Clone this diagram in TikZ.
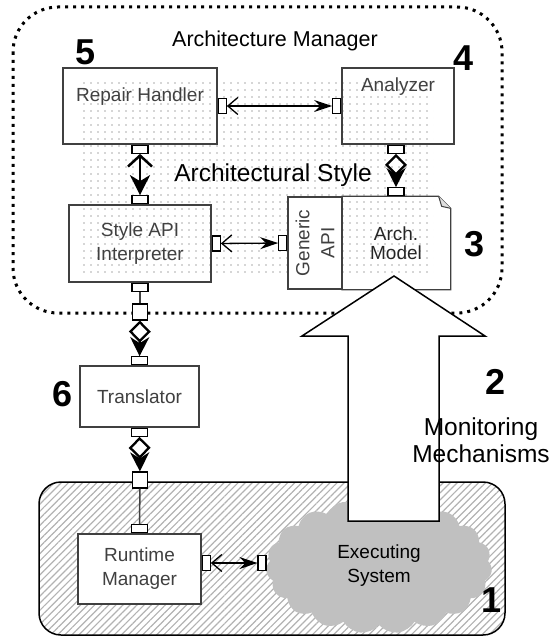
\documentclass[tikz,border=0pt]{standalone}
\usepackage{xcolor}
\usepackage{fontspec}
\setmainfont{Liberation Sans}
\usepackage{tikz}
\usetikzlibrary{arrows.meta,patterns.meta,shapes.symbols,positioning}

\definecolor{boxgray}{HTML}{404040}
\definecolor{cloudgray}{HTML}{C0C0C0}

\tikzstyle{mybox} = [draw=boxgray, line width=1.3pt, rectangle, inner sep=0pt, align=center, text=boxgray, font=\fontsize{19}{24}\selectfont]
\tikzstyle{boxlabel} = [text=boxgray, font=\fontsize{19}{24}\selectfont, align=center, inner sep=0pt, anchor=center]
\tikzstyle{genlabel} = [boxlabel, rotate=90, font=\fontsize{19}{25}\selectfont]
\tikzstyle{myport} = [draw=black, line width=1.2pt, fill=white, rectangle, inner sep=0pt]
\tikzstyle{hport} = [myport, minimum width=8pt, minimum height=15pt]
\tikzstyle{vport} = [myport, minimum width=16pt, minimum height=8pt]
\tikzstyle{myjoin} = [myport, minimum width=15pt, minimum height=16pt]
\tikzstyle{mynum} = [font=\bfseries\fontsize{36}{36}\selectfont, inner sep=0pt]
\tikzstyle{mytitle} = [font=\fontsize{21.5}{24}\selectfont, inner sep=0pt]
\tikzstyle{bigtext} = [font=\fontsize{24.5}{27}\selectfont, align=center, inner sep=0pt]
\tikzstyle{mycloud} = [cloud, cloud puffs=19, cloud puff arc=110, aspect=1.9, fill=cloudgray, minimum width=226pt, minimum height=135pt, inner sep=0pt, align=center, font=\fontsize{19}{24}\selectfont]
\tikzstyle{thinlink} = [line width=1.3pt, arrows={Straight Barb[length=10pt,width=17pt]-Stealth[length=18pt,width=12pt,inset=6pt]}]
\tikzstyle{thicklink} = [line width=2.5pt, arrows={Straight Barb[length=11pt,width=24pt]-Stealth[length=20pt,width=20pt,inset=6pt]}]
\tikzstyle{diamlink} = [line width=2.3pt, arrows={Diamond[open,length=22pt,width=22pt]-Stealth[length=19pt,width=19pt,inset=6pt]}]
\tikzstyle{plainlink} = [draw=boxgray, line width=1.5pt]

\begin{document}
\begin{tikzpicture}[x=1pt,y=-1pt]
    \useasboundingbox (0,0) rectangle (549,636);

    % sfondo
    \fill[pattern={Dots[radius=0.9pt,distance=7pt]}, pattern color=gray!65] (83,80) rectangle (433,277);
    \draw[line width=3pt, dash pattern=on 3pt off 5pt, rounded corners=45pt] (13,7) rectangle (502,313);
    \draw[line width=1.5pt, rounded corners=22pt, pattern={Lines[angle=45,distance=5pt,line width=1.2pt]}, pattern color=gray!60] (39,482) rectangle (505,635);
    \node[mycloud] (cloud) at (379,566) {Executing\\System};

    \node[mytitle] (mgrtitle) at (275,41) {Architecture Manager};
    \node[bigtext] (styletitle) at (273,175) {Architectural Style};

    % componenti
    \node[mybox, minimum width=154pt, minimum height=76pt, label={[boxlabel,yshift=-29pt]north:Repair Handler}] (repair) at (140,106) {};
    \node[mybox, minimum width=112pt, minimum height=76pt, label={[boxlabel,yshift=-19pt]north:Analyzer}] (analyzer) at (398,106) {};
    \node[mybox, minimum width=142pt, minimum height=77pt] (style) at (140,243.5) {Style API\\Interpreter};
    \node[mybox, fill=white, minimum width=54pt, minimum height=92pt, label={[genlabel]center:Generic\\API}] (generic) at (315,243) {};
    \node[mybox, draw=none, minimum width=108pt, minimum height=92pt, text=black!85, font=\fontsize{19}{19.5}\selectfont] (model) at (396,243) {Arch.\\Model};
    \draw[boxgray, line width=1.3pt] (model.north west) -- ([xshift=-12pt]model.north east) -- ([yshift=-12pt]model.north east) -- (model.south east) -- (model.south west);
    \draw[boxgray, line width=1pt, fill=gray!25] ([xshift=-12pt]model.north east) -- ([xshift=-9pt,yshift=-10pt]model.north east) -- ([yshift=-12pt]model.north east);
    \node[mybox, fill=white, minimum width=119pt, minimum height=61pt] (translator) at (139.5,396.5) {Translator};
    \node[mybox, fill=white, minimum width=123pt, minimum height=70pt] (runtime) at (139.5,569) {Runtime\\Manager};

    % porte
    \node[hport, anchor=west] (repE) at (repair.east) {};
    \node[hport, anchor=east] (anaW) at (analyzer.west) {};
    \node[vport, anchor=north] (repS) at (repair.south) {};
    \node[vport, anchor=north] (anaS) at (analyzer.south -| model.north) {};
    \node[vport, anchor=south] (styleN) at (style.north) {};
    \node[hport, anchor=west] (styleE) at (style.east) {};
    \node[vport, anchor=north] (styleS) at (style.south) {};
    \node[hport, anchor=east] (genW) at (generic.west) {};
    \node[vport, anchor=south] (modelN) at (model.north) {};
    \node[myjoin] (joinA) at (140,312) {};
    \node[vport, anchor=south] (transN) at (translator.north) {};
    \node[vport, anchor=north] (transS) at (translator.south) {};
    \node[myjoin] (joinB) at (140,480) {};
    \node[vport, anchor=south] (runN) at (runtime.north) {};
    \node[hport, anchor=west] (runE) at ([yshift=6pt]runtime.east) {};
    \node[hport, anchor=east] (cloudW) at (runE -| cloud.west) {};

    % collegamenti
    \draw[thinlink] (repE) -- (anaW);
    \draw[thicklink] (repS) -- (styleN);
    \draw[diamlink] (anaS) -- (modelN);
    \draw[thinlink] (styleE) -- (genW);
    \draw[plainlink] (styleS) -- (joinA);
    \draw[diamlink] (joinA) -- (transN);
    \draw[diamlink] (transS) -- (joinB);
    \draw[plainlink] (joinB) -- (runN);
    \draw[thinlink] (runE) -- (cloudW);

    % freccia monitoraggio
    \draw[line width=1.5pt, fill=white] (394,276) -- (485,336) -- (439,336) -- (439,521) -- (348,521) -- (348,336) -- (302,336) -- cycle;
    \node[bigtext] (monitor) at (481,440) {Monitoring\\Mechanisms};

    \node[mynum] (n1) at (492,600) {1};
    \node[mynum] (n2) at (496,382) {2};
    \node[mynum] (n3) at (475,244) {3};
    \node[mynum] (n4) at (464,58) {4};
    \node[mynum] (n5) at (86,52) {5};
    \node[mynum] (n6) at (63,394) {6};
\end{tikzpicture}
\end{document}
